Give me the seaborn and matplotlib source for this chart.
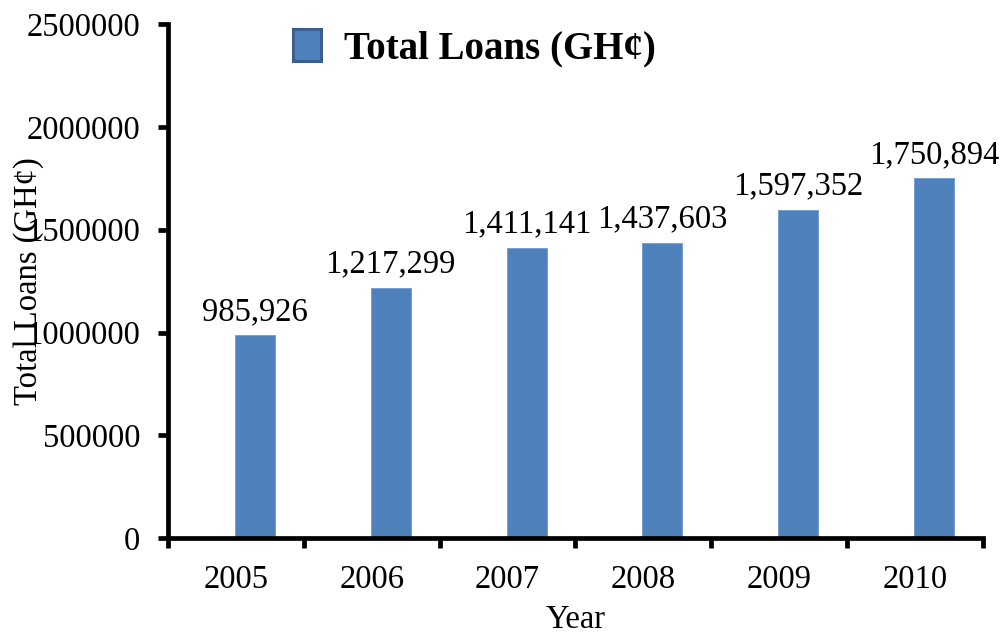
import numpy as np
import pandas as pd
import matplotlib
matplotlib.use("Agg")
import matplotlib.pyplot as plt
from matplotlib.patches import Rectangle
from matplotlib.legend_handler import HandlerPatch
from matplotlib.ticker import FixedLocator, NullFormatter
import seaborn as sns

# Total loans per year (GH¢)
years = ["2005", "2006", "2007", "2008", "2009", "2010"]
loans = [985926, 1217299, 1411141, 1437603, 1597352, 1750894]
y_ticks = [0, 500000, 1000000, 1500000, 2000000, 2500000]

series_name = "Total Loans (GH¢)"
bar_color = "#4F81BD"

sns.set_theme(style="white")
plt.rcParams["font.family"] = ["Liberation Serif", "DejaVu Serif"]
plt.rcParams["text.color"] = "black"

fig = plt.figure(figsize=(10, 6.36), dpi=100)
ax = fig.add_axes([0.168, 0.154, 0.815, 0.808])

# Bars sit slightly right of each category centre, as in a clustered column layout
cat_pos = np.arange(len(years))
bar_shift = 0.14
df = pd.DataFrame({"pos": cat_pos + bar_shift, "loans": loans})

sns.barplot(data=df, x="pos", y="loans", native_scale=True, width=0.295,
            color=bar_color, saturation=1, edgecolor="#6f9bd0", linewidth=0.6,
            label=series_name, ax=ax)

ax.bar_label(ax.containers[0], labels=[f"{v:,}" for v in loans],
             padding=6, fontsize=23.5, color="black")

# Axes limits and ticks
ax.set_xlim(-0.5, len(years) - 0.5)
ax.set_ylim(0, 2500000)
ax.set_yticks(y_ticks)
ax.set_yticklabels([str(t) for t in y_ticks])
ax.set_xticks(cat_pos)
ax.set_xticklabels(years)
ax.xaxis.set_minor_locator(FixedLocator(np.arange(len(years) + 1) - 0.5))
ax.xaxis.set_minor_formatter(NullFormatter())

ax.tick_params(axis="x", which="major", length=0, pad=19, labelsize=23.5, colors="black")
ax.tick_params(axis="x", which="minor", bottom=True, length=7, width=3.4,
               direction="out", color="black")
ax.tick_params(axis="y", which="major", left=True, length=7, width=3.4,
               direction="out", pad=13, labelsize=23.5, colors="black")

for side in ("top", "right"):
    ax.spines[side].set_visible(False)
for side in ("left", "bottom"):
    ax.spines[side].set_color("black")
    ax.spines[side].set_linewidth(3.4)

ax.set_xlabel("Year", fontsize=23.5, color="black", labelpad=7)
ax.set_ylabel(series_name, fontsize=23.5, color="black")
ax.yaxis.set_label_coords(-0.152, 0.5)


# Legend key: a bordered square raised toward the cap height of the text
def legend_square(legend, orig_handle, xdescent, ydescent, width, height, fontsize):
    return Rectangle((-xdescent, 7.2), width, 17.3, joinstyle="round")


leg = ax.legend(loc="lower left", bbox_to_anchor=(0.293, 0.894),
                bbox_transform=fig.transFigure, frameon=False,
                borderaxespad=0, borderpad=0, handlelength=0.72,
                handleheight=0.9, handletextpad=0.6,
                handler_map={Rectangle: HandlerPatch(patch_func=legend_square)},
                prop={"family": ["Liberation Serif"], "weight": "bold", "size": 28})
for t in leg.get_texts():
    t.set_color("black")
for h in leg.legend_handles:
    h.set_facecolor(bar_color)
    h.set_edgecolor("#3A5F8F")
    h.set_linewidth(2.2)

fig.savefig("out.png", dpi=100)
